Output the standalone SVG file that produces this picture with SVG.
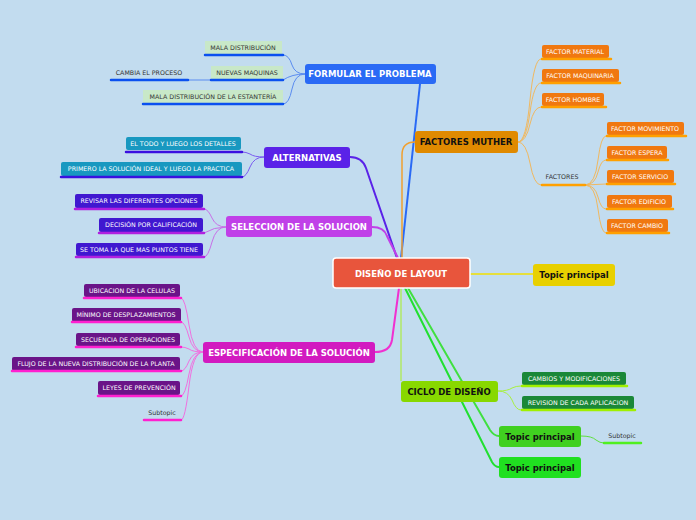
<svg xmlns="http://www.w3.org/2000/svg" width="696" height="520" viewBox="0 0 696 520">
<style>
text{font-family:"DejaVu Sans","Noto Sans",sans-serif}
.m{font-size:8.5px;font-weight:bold;fill:#fff;text-anchor:middle}
.mk{font-size:8.5px;font-weight:bold;fill:#111;text-anchor:middle}
.l{font-size:6.3px;fill:#fff;text-anchor:middle}
.ld{font-size:6.3px;fill:#333;text-anchor:middle}
.c{fill:none;stroke-width:1}
.u{stroke-width:2.5;stroke-linecap:round}
</style>
<rect width="696" height="520" fill="#c2dcef"/>
<g id="connectors" fill="none">
<path d="M420 84 L401 258" stroke="#2a6af5" stroke-width="2"/>
<path d="M415 142 Q402 142 402 155 L402 258" stroke="#f0a030" stroke-width="1.5"/>
<path d="M350 157 Q362 157 366 168 L397 258" stroke="#5a22e8" stroke-width="2"/>
<path d="M372 227 Q384 227 387 236 L398 258" stroke="#c040e8" stroke-width="2"/>
<path d="M375 352 Q390 352 392 340 L399 288" stroke="#f030d0" stroke-width="2"/>
<path d="M401 288 L401 381" stroke="#a8f020" stroke-width="1"/>
<path d="M470 274 L533 274" stroke="#f0e000" stroke-width="1.5"/>
<path d="M408 288 L490 430 Q494 436 499 436" stroke="#40e040" stroke-width="2"/>
<path d="M405 288 L492 462 Q495 467 499 467" stroke="#20e030" stroke-width="2"/>
<path d="M581 436 Q592 436 596 440 Q600 443 604 443" stroke="#60e040"/>
<g class="c" stroke="#5a8cf0">
<path d="M305 74 Q295 74 292 65 Q289 55 283 55"/>
<path d="M305 74 Q292 74 283 80"/>
<path d="M305 74 Q295 74 292 89 Q289 104 283 104"/>
<path d="M211 80 L188 80"/>
</g>
<g class="c" stroke="#7a5af0">
<path d="M264 157 Q254 157 250 154 Q246 152 242 152"/>
<path d="M264 157 Q254 157 250 167 Q246 177 242 177"/>
</g>
<g class="c" stroke="#c870e8">
<path d="M226 227 Q216 227 212 218 Q208 209 204 209"/>
<path d="M226 227 Q214 227 204 233"/>
<path d="M226 227 Q216 227 212 242 Q208 257 204 257"/>
</g>
<g class="c" stroke="#f070e0">
<path d="M203 352 Q193 352 189 325 Q185 298 181 298"/>
<path d="M203 352 Q193 352 189 337 Q185 322 181 322"/>
<path d="M203 352 Q193 352 189 349 Q185 347 181 347"/>
<path d="M203 352 Q193 352 189 361 Q185 371 181 371"/>
<path d="M203 352 Q193 352 189 374 Q185 396 181 396"/>
<path d="M203 352 Q193 352 189 386 Q185 420 181 420"/>
</g>
<g class="c" stroke="#f0b860">
<path d="M518 142 Q526 142 530 100 Q534 59 541 59"/>
<path d="M518 142 Q526 142 530 112 Q534 83 541 83"/>
<path d="M518 142 Q526 142 530 124 Q534 107 541 107"/>
<path d="M518 142 Q526 142 530 163 Q534 185 541 185"/>
<path d="M585 185 Q595 185 598 160 Q601 136 606 136"/>
<path d="M585 185 Q595 185 598 172 Q601 160 606 160"/>
<path d="M585 185 L606 184"/>
<path d="M585 185 Q595 185 598 197 Q601 209 606 209"/>
<path d="M585 185 Q595 185 598 209 Q601 233 606 233"/>
</g>
<g class="c" stroke="#a8f040">
<path d="M498 391 Q508 391 512 388 Q516 386 521 386"/>
<path d="M498 391 Q508 391 512 400 Q516 410 521 410"/>
</g>
</g>
<g id="center"><rect x="333" y="258" width="137" height="30" rx="3" fill="#e8553c" stroke="#fff" stroke-width="1.5"/><text x="401" y="277" class="m" font-size="11">DISEÑO DE LAYOUT</text></g>
<g id="formular"><rect x="305" y="64" width="131" height="20" rx="3" fill="#2a6af5"/><text x="370" y="77" class="m">FORMULAR EL PROBLEMA</text></g>
<g id="muther"><rect x="415" y="131" width="103" height="22" rx="3" fill="#e08a00"/><text x="466" y="145" class="mk">FACTORES MUTHER</text></g>
<g id="alternativas"><rect x="264" y="147" width="86" height="21" rx="3" fill="#5a22e8"/><text x="307" y="161" class="m">ALTERNATIVAS</text></g>
<g id="seleccion"><rect x="226" y="216" width="146" height="21" rx="3" fill="#c040e8"/><text x="299" y="230" class="m">SELECCION DE LA SOLUCION</text></g>
<g id="especificacion"><rect x="203" y="342" width="172" height="21" rx="3" fill="#d21ac0"/><text x="289" y="356" class="m">ESPECIFICACIÓN DE LA SOLUCIÓN</text></g>
<g id="ciclo"><rect x="401" y="381" width="97" height="21" rx="3" fill="#88d800"/><text x="449" y="395" class="mk">CICLO DE DISEÑO</text></g>
<g id="topic-yellow"><rect x="533" y="264" width="82" height="22" rx="3" fill="#e8d000"/><text x="574" y="278" class="mk">Topic principal</text></g>
<g id="topic-green1"><rect x="499" y="426" width="82" height="21" rx="3" fill="#40d020"/><text x="540" y="440" class="mk">Topic principal</text></g>
<g id="topic-green2"><rect x="499" y="457" width="82" height="21" rx="3" fill="#20e020"/><text x="540" y="471" class="mk">Topic principal</text></g>
<g id="sub-green"><text x="622" y="438" class="ld">Subtopic</text><line x1="604" y1="443" x2="641" y2="443" class="u" stroke="#50f020"/></g>

<g id="f1"><rect x="205" y="41" width="77" height="14" fill="#c8e8c8"/><text x="243" y="50" class="ld">MALA DISTRIBUCIÓN</text><line x1="205" y1="55" x2="283" y2="55" class="u" stroke="#0a50f0"/></g>
<g id="f2"><rect x="211" y="66" width="72" height="14" fill="#c8e8c8"/><text x="247" y="75" class="ld">NUEVAS MAQUINAS</text><line x1="211" y1="80" x2="283" y2="80" class="u" stroke="#0a50f0"/></g>
<g id="f2a"><text x="149" y="75" class="ld" fill="#222">CAMBIA EL PROCESO</text><line x1="111" y1="80" x2="188" y2="80" class="u" stroke="#0a50f0"/></g>
<g id="f3"><rect x="143" y="90" width="140" height="14" fill="#c8e8c8"/><text x="213" y="99" class="ld">MALA DISTRIBUCIÓN DE LA ESTANTERÍA</text><line x1="143" y1="104" x2="283" y2="104" class="u" stroke="#0a50f0"/></g>

<g id="a1"><rect x="126" y="137" width="115" height="13" rx="2" fill="#1898c0"/><text x="183" y="146" class="l">EL TODO Y LUEGO LOS DETALLES</text><line x1="126" y1="152" x2="242" y2="152" class="u" stroke="#3a10e0"/></g>
<g id="a2"><rect x="61" y="162" width="181" height="14" rx="2" fill="#1898c0"/><text x="151" y="171" class="l">PRIMERO LA SOLUCIÓN  IDEAL Y LUEGO LA PRACTICA</text><line x1="61" y1="177" x2="242" y2="177" class="u" stroke="#3a10e0"/></g>

<g id="s1"><rect x="75" y="194" width="128" height="14" rx="2" fill="#4018d0"/><text x="139" y="203" class="l">REVISAR LAS DIFERENTES OPCIONES</text><line x1="75" y1="209" x2="204" y2="209" class="u" stroke="#b020e0"/></g>
<g id="s2"><rect x="99" y="218" width="104" height="14" rx="2" fill="#4018d0"/><text x="151" y="227" class="l">DECISIÓN POR CALIFICACIÓN</text><line x1="99" y1="233" x2="204" y2="233" class="u" stroke="#b020e0"/></g>
<g id="s3"><rect x="76" y="243" width="127" height="13" rx="2" fill="#4018d0"/><text x="139" y="252" class="l">SE TOMA LA QUE MAS PUNTOS TIENE</text><line x1="76" y1="257" x2="204" y2="257" class="u" stroke="#b020e0"/></g>

<g id="e1"><rect x="84" y="284" width="96" height="13" rx="2" fill="#6a1488"/><text x="132" y="293" class="l">UBICACION DE LA CELULAS</text><line x1="84" y1="298" x2="181" y2="298" class="u" stroke="#ff20d0"/></g>
<g id="e2"><rect x="72" y="308" width="109" height="14" rx="2" fill="#6a1488"/><text x="126" y="317" class="l">MÍNIMO DE DESPLAZAMIENTOS</text><line x1="72" y1="322" x2="181" y2="322" class="u" stroke="#ff20d0"/></g>
<g id="e3"><rect x="76" y="333" width="104" height="13" rx="2" fill="#6a1488"/><text x="128" y="342" class="l">SECUENCIA DE OPERACIONES</text><line x1="76" y1="347" x2="181" y2="347" class="u" stroke="#ff20d0"/></g>
<g id="e4"><rect x="12" y="357" width="168" height="14" rx="2" fill="#6a1488"/><text x="96" y="366" class="l">FLUJO DE LA NUEVA DISTRIBUCIÓN DE LA PLANTA</text><line x1="12" y1="371" x2="181" y2="371" class="u" stroke="#ff20d0"/></g>
<g id="e5"><rect x="98" y="381" width="82" height="14" rx="2" fill="#6a1488"/><text x="139" y="390" class="l">LEYES DE PREVENCIÓN</text><line x1="98" y1="396" x2="181" y2="396" class="u" stroke="#ff20d0"/></g>
<g id="e6"><text x="162" y="415" class="ld">Subtopic</text><line x1="144" y1="420" x2="181" y2="420" class="u" stroke="#ff20d0"/></g>

<g id="m1"><rect x="542" y="45" width="67" height="13" rx="2" fill="#f07810"/><text x="575" y="54" class="l">FACTOR MATERIAL</text><line x1="542" y1="59" x2="611" y2="59" class="u" stroke="#ffa000"/></g>
<g id="m2"><rect x="542" y="69" width="77" height="13" rx="2" fill="#f07810"/><text x="580" y="78" class="l">FACTOR MAQUINARIA</text><line x1="542" y1="83" x2="620" y2="83" class="u" stroke="#ffa000"/></g>
<g id="m3"><rect x="542" y="93" width="62" height="13" rx="2" fill="#f07810"/><text x="573" y="102" class="l">FACTOR HOMBRE</text><line x1="542" y1="107" x2="606" y2="107" class="u" stroke="#ffa000"/></g>
<g id="m4"><text x="562" y="179" class="ld">FACTORES</text><line x1="542" y1="185" x2="585" y2="185" class="u" stroke="#ffa000"/></g>
<g id="m5"><rect x="607" y="122" width="77" height="13" rx="2" fill="#f07810"/><text x="645" y="131" class="l">FACTOR MOVIMIENTO</text><line x1="607" y1="136" x2="686" y2="136" class="u" stroke="#ffa000"/></g>
<g id="m6"><rect x="607" y="146" width="60" height="13" rx="2" fill="#f07810"/><text x="637" y="155" class="l">FACTOR ESPERA</text><line x1="607" y1="160" x2="668" y2="160" class="u" stroke="#ffa000"/></g>
<g id="m7"><rect x="607" y="170" width="67" height="13" rx="2" fill="#f07810"/><text x="640" y="179" class="l">FACTOR SERVICIO</text><line x1="607" y1="184" x2="675" y2="184" class="u" stroke="#ffa000"/></g>
<g id="m8"><rect x="607" y="195" width="65" height="13" rx="2" fill="#f07810"/><text x="639" y="204" class="l">FACTOR EDIFICIO</text><line x1="607" y1="209" x2="673" y2="209" class="u" stroke="#ffa000"/></g>
<g id="m9"><rect x="607" y="219" width="61" height="13" rx="2" fill="#f07810"/><text x="637" y="228" class="l">FACTOR CAMBIO</text><line x1="607" y1="233" x2="669" y2="233" class="u" stroke="#ffa000"/></g>

<g id="c1"><rect x="522" y="372" width="104" height="13" rx="2" fill="#1a8838"/><text x="574" y="381" class="l">CAMBIOS Y MODIFICACIONES</text><line x1="522" y1="386" x2="627" y2="386" class="u" stroke="#a0f000"/></g>
<g id="c2"><rect x="522" y="396" width="112" height="13" rx="2" fill="#1a8838"/><text x="578" y="405" class="l">REVISION DE CADA APLICACION</text><line x1="522" y1="410" x2="635" y2="410" class="u" stroke="#a0f000"/></g>
</svg>
